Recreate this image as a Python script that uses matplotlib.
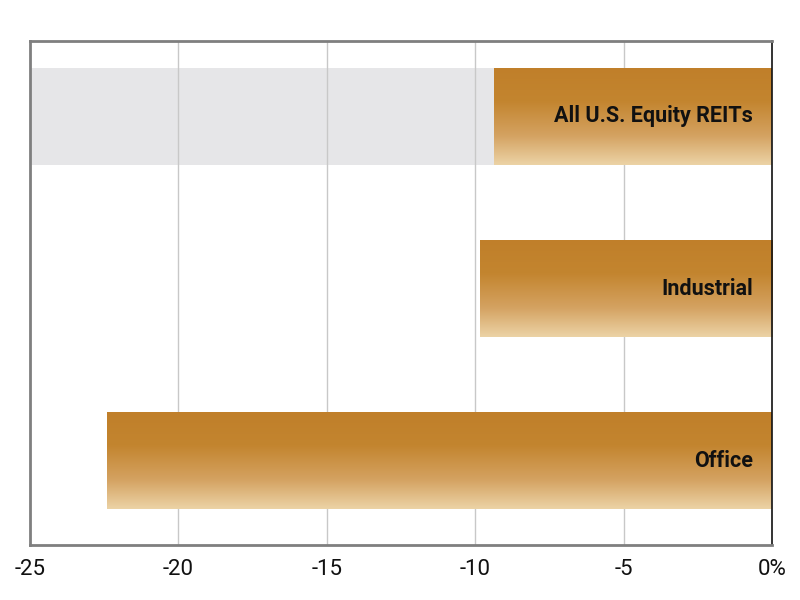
import matplotlib
matplotlib.use("Agg")
import matplotlib.pyplot as plt
import numpy as np
from matplotlib.colors import LinearSegmentedColormap

categories = ["Office", "Industrial", "All U.S. Equity REITs"]
values = [-22.4, -9.85, -9.35]
xticks = [-25, -20, -15, -10, -5, 0]
xticklabels = ["-25", "-20", "-15", "-10", "-5", "0%"]

plt.rcParams["font.family"] = ["Roboto", "DejaVu Sans"]

fig = plt.figure(figsize=(8, 6), dpi=100)
ax = fig.add_axes([0.0375, 0.0917, 0.9275, 0.84])
ax.set_xlim(-25, 0)
ax.set_ylim(-0.491, 2.439)

h = 0.564
ys = np.arange(len(categories))
# highlighted band behind the top category
ax.axhspan(ys[-1] - h / 2, ys[-1] + h / 2, color="#E6E6E8", zorder=0, lw=0)

for xt in xticks[1:-1]:
    ax.axvline(xt, color="#C8C8C8", lw=1, zorder=1)

cmap = LinearSegmentedColormap.from_list(
    "g", [(0, "#C07F2A"), (0.35, "#C3852F"), (0.7, "#D4A261"), (1.0, "#ECD3A6")])
grad = np.linspace(0, 1, 256).reshape(-1, 1)

bars = ax.barh(ys, values, height=h, color="none", zorder=2, lw=0)
for bar, cat in zip(bars, categories):
    x0, y0 = bar.get_x(), bar.get_y()
    w, hh = bar.get_width(), bar.get_height()
    im = ax.imshow(grad, cmap=cmap, aspect="auto", origin="upper",
                   extent=(x0 + w if w < 0 else x0, x0 if w < 0 else x0 + w, y0, y0 + hh),
                   zorder=2, interpolation="bicubic")
    im.set_clip_path(bar)
    ax.text(-0.65, y0 + hh / 2, cat, ha="right", va="center",
            fontsize=15.5, fontweight="bold", color="#111111", zorder=3)

ax.set_xlim(-25, 0)
ax.set_ylim(-0.491, 2.439)
ax.set_yticks([])
ax.set_xticks(xticks)
ax.set_xticklabels(xticklabels, fontsize=16, color="#111111")
ax.tick_params(axis="x", length=0, pad=10)
for s in ["left", "top", "bottom"]:
    ax.spines[s].set_color("#7F7F7F")
    ax.spines[s].set_linewidth(2)
ax.spines["right"].set_color("#111111")
ax.spines["right"].set_linewidth(1.2)

fig.savefig("out.png", dpi=100)
